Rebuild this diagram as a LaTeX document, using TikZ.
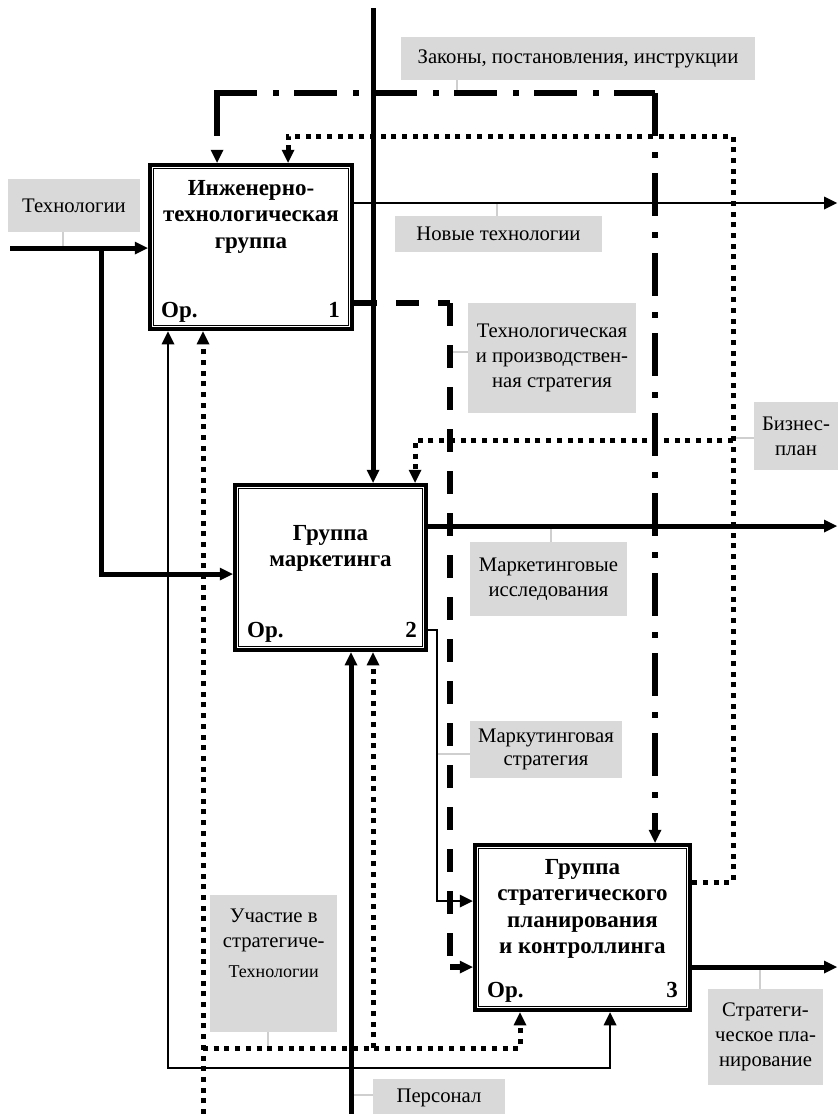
\documentclass[tikz,border=0pt]{standalone}
\usepackage{fontspec}
\setmainfont{Liberation Serif}
\usetikzlibrary{arrows.meta}
\definecolor{lgray}{HTML}{D9D9D9}
\definecolor{ldgray}{HTML}{CFCFCF}
\tikzset{
  box/.style={draw, line width=4.5pt, fill=white, inner sep=0pt, rectangle},
  innerbox/.style={line width=0.8pt},
  ttl/.style={font=\bfseries\fontsize{23}{26.5}\selectfont, align=center, inner sep=0pt, anchor=north},
  orp/.style={font=\bfseries\fontsize{23}{25}\selectfont, inner sep=0pt, anchor=base west},
  num/.style={font=\bfseries\fontsize{23}{25}\selectfont, inner sep=0pt, anchor=base east},
  lbl/.style={fill=lgray, inner sep=0pt, font=\fontsize{20.7}{25}\selectfont, align=center},
  leader/.style={draw=ldgray, line width=1.5pt},
  thickln/.style={line width=5pt},
  thinln/.style={line width=1.2pt},
  dotln/.style={line width=5pt, dash pattern=on 5pt off 5.7pt},
  dashln/.style={line width=6pt, dash pattern=on 23pt off 19pt},
  ddln/.style={line width=5.5pt, dash pattern=on 43pt off 16pt on 6pt off 15pt},
  arrend/.style={-{Triangle[length=13pt,width=13pt,line width=0pt]}},
  arrboth/.style={{Triangle[length=13pt,width=13pt,line width=0pt]}-{Triangle[length=13pt,width=13pt,line width=0pt]}},
}
\begin{document}
\begin{tikzpicture}[x=1pt,y=-1pt]
\useasboundingbox (0,0) rectangle (839,1114);

% boxes
\node[box, minimum width=202pt, minimum height=164pt] (b1) at (251,247) {};
\node[box, minimum width=191pt, minimum height=165pt] (b2) at (330.5,567.5) {};
\node[box, minimum width=215pt, minimum height=165pt] (b3) at (582.5,927.5) {};

% coordinates
\coordinate (top) at (373,8);
\coordinate (tin) at (10,248);
\coordinate (tbr) at (101,248);
\coordinate (tb2) at (101,574);
\coordinate (nout) at (837,203);
\coordinate (mout) at (837,526);
\coordinate (sout) at (837,967);
\coordinate (k1) at (217,93);
\coordinate (k2) at (655,93);
\coordinate (p1) at (288,136);
\coordinate (p2) at (733,136);
\coordinate (p3) at (733,882);
\coordinate (p4) at (733,440);
\coordinate (p5) at (415,440);
\coordinate (d1) at (450,303);
\coordinate (d2) at (450,967);
\coordinate (m1) at (437,630);
\coordinate (m2) at (437,901);
\coordinate (q0) at (203,1114);
\coordinate (q1) at (203,1048);
\coordinate (q2) at (373,1048);
\coordinate (q3) at (520,1048);
\coordinate (r1) at (168,1068);
\coordinate (r2) at (610,1068);
\coordinate (s0) at (351,1114);

% labels
\node[lbl, minimum width=132pt, minimum height=53pt] (lTech) at (74,205.5) {Технологии};
\node[lbl, minimum width=354pt, minimum height=43pt] (lLaw) at (578,58.5) {Законы, постановления, инструкции};
\node[lbl, minimum width=207pt, minimum height=36pt] (lNew) at (498.5,234) {Новые технологии};
\node[lbl, minimum width=168pt, minimum height=110pt] (lStrat) at (552,358) {Технологическая\\и производствен-\\ная стратегия};
\node[lbl, minimum width=84pt, minimum height=68pt] (lBiz) at (796,436) {Бизнес-\\план};
\node[lbl, minimum width=157pt, minimum height=74pt] (lMarkR) at (548.5,579) {Маркетинговые\\исследования};
\node[lbl, minimum width=152pt, minimum height=57pt, font=\fontsize{20.7}{23.5}\selectfont] (lMarkS) at (546,749.5) {Маркутинговая\\стратегия};
\node[lbl, anchor=north west] (lPart) at (210,895) {\parbox[b][137pt][t]{127pt}{\centering\vspace*{14pt}Участие в\\стратегиче-\\[5pt]{\fontsize{18}{21}\selectfont Технологии}}};
\node[lbl, minimum width=132pt, minimum height=37pt] (lPers) at (439,1097.5) {Персонал};
\node[lbl, minimum width=115pt, minimum height=96pt] (lPlan) at (765.5,1037) {Стратеги-\\ческое пла-\\нирование};

% leaders
\coordinate (ld1) at (63,248);
\draw[leader] (ld1) -- (ld1 |- lTech.south);
\coordinate (ld2) at (457,93);
\draw[leader] (ld2) -- (ld2 |- lLaw.south);
\coordinate (ld3) at (497,203);
\draw[leader] (ld3) -- (ld3 |- lNew.north);
\coordinate (ld4) at (450,352);
\draw[leader] (ld4) -- (ld4 -| lStrat.west);
\coordinate (ld5) at (733,438);
\draw[leader] (ld5) -- (ld5 -| lBiz.west);
\coordinate (ld6) at (551,526);
\draw[leader] (ld6) -- (ld6 |- lMarkR.north);
\coordinate (ld7) at (437,754);
\draw[leader] (ld7) -- (ld7 -| lMarkS.west);
\coordinate (ld8) at (268,1048);
\draw[leader] (ld8) -- (ld8 |- lPart.south);
\coordinate (ld9) at (351,1095);
\draw[leader] (ld9) -- (ld9 -| lPers.west);
\coordinate (ld10) at (760,967);
\draw[leader] (ld10) -- (ld10 |- lPlan.north);

% solid connectors
\draw[thickln, arrend] (top) -- (top |- b2.north);
\draw[thickln, arrend] (tin) -- (tin -| b1.west);
\draw[thickln, arrend] (tbr) -- (tb2) -- (tb2 -| b2.west);
\draw[thinln, arrend] (nout -| b1.east) -- (nout);
\draw[thickln, arrend] (mout -| b2.east) -- (mout);
\draw[thickln, arrend] (sout -| b3.east) -- (sout);
\draw[thickln, arrend] (s0) -- (s0 |- b2.south);
\draw[thinln, arrend] (m1 -| b2.east) -- (m1) -- (m2) -- (m2 -| b3.west);
\draw[thinln, arrboth] (r1 |- b1.south) -- (r1) -- (r2) -- (r2 |- b3.south);

% dashed connector
\draw[dashln] (d1 -| b1.east) -- (d1);
\draw[dashln] (d1) -- (d2);
\draw[dashln, arrend] (d2) -- (d2 -| b3.west);

% dash-dot connector
\draw[ddln, arrend] (k1) -- (k1 |- b1.north);
\draw[ddln, shorten <=-2.75pt] (k1) -- (k2);
\draw[ddln, arrend] (k2) -- (k2 |- b3.north);

% dotted connectors
\draw[dotln, arrend] (p3 -| b3.east) -- (p3) -- (p2) -- (p1) -- (p1 |- b1.north);
\draw[dotln, arrend] (p4) -- (p5) -- (p5 |- b2.north);
\draw[dotln, arrend] (q0) -- (q0 |- b1.south);
\draw[dotln, arrend] (q1) -- (q3) -- (q3 |- b3.south);
\draw[dotln, arrend] (q2) -- (q2 |- b2.south);

% inner frames
\foreach \b in {b1,b2,b3}
  \draw[innerbox] ([shift={(6,6)}]\b.north west) rectangle ([shift={(-6,-6)}]\b.south east);

% titles
\node[ttl] (t1) at (251,180) {Инженерно-\\технологическая\\группа};
\node[ttl] (t2) at (330.5,525) {Группа\\маркетинга};
\node[ttl] (t3) at (582.5,859) {Группа\\стратегического\\планирования\\и контроллинга};
\node[orp] (o1) at (161,317) {Ор.};
\node[num] (n1) at (340,317) {1};
\node[orp] (o2) at (247,637) {Ор.};
\node[num] (n2) at (417,637) {2};
\node[orp] (o3) at (487,997) {Ор.};
\node[num] (n3) at (678,997) {3};
\end{tikzpicture}
\end{document}
